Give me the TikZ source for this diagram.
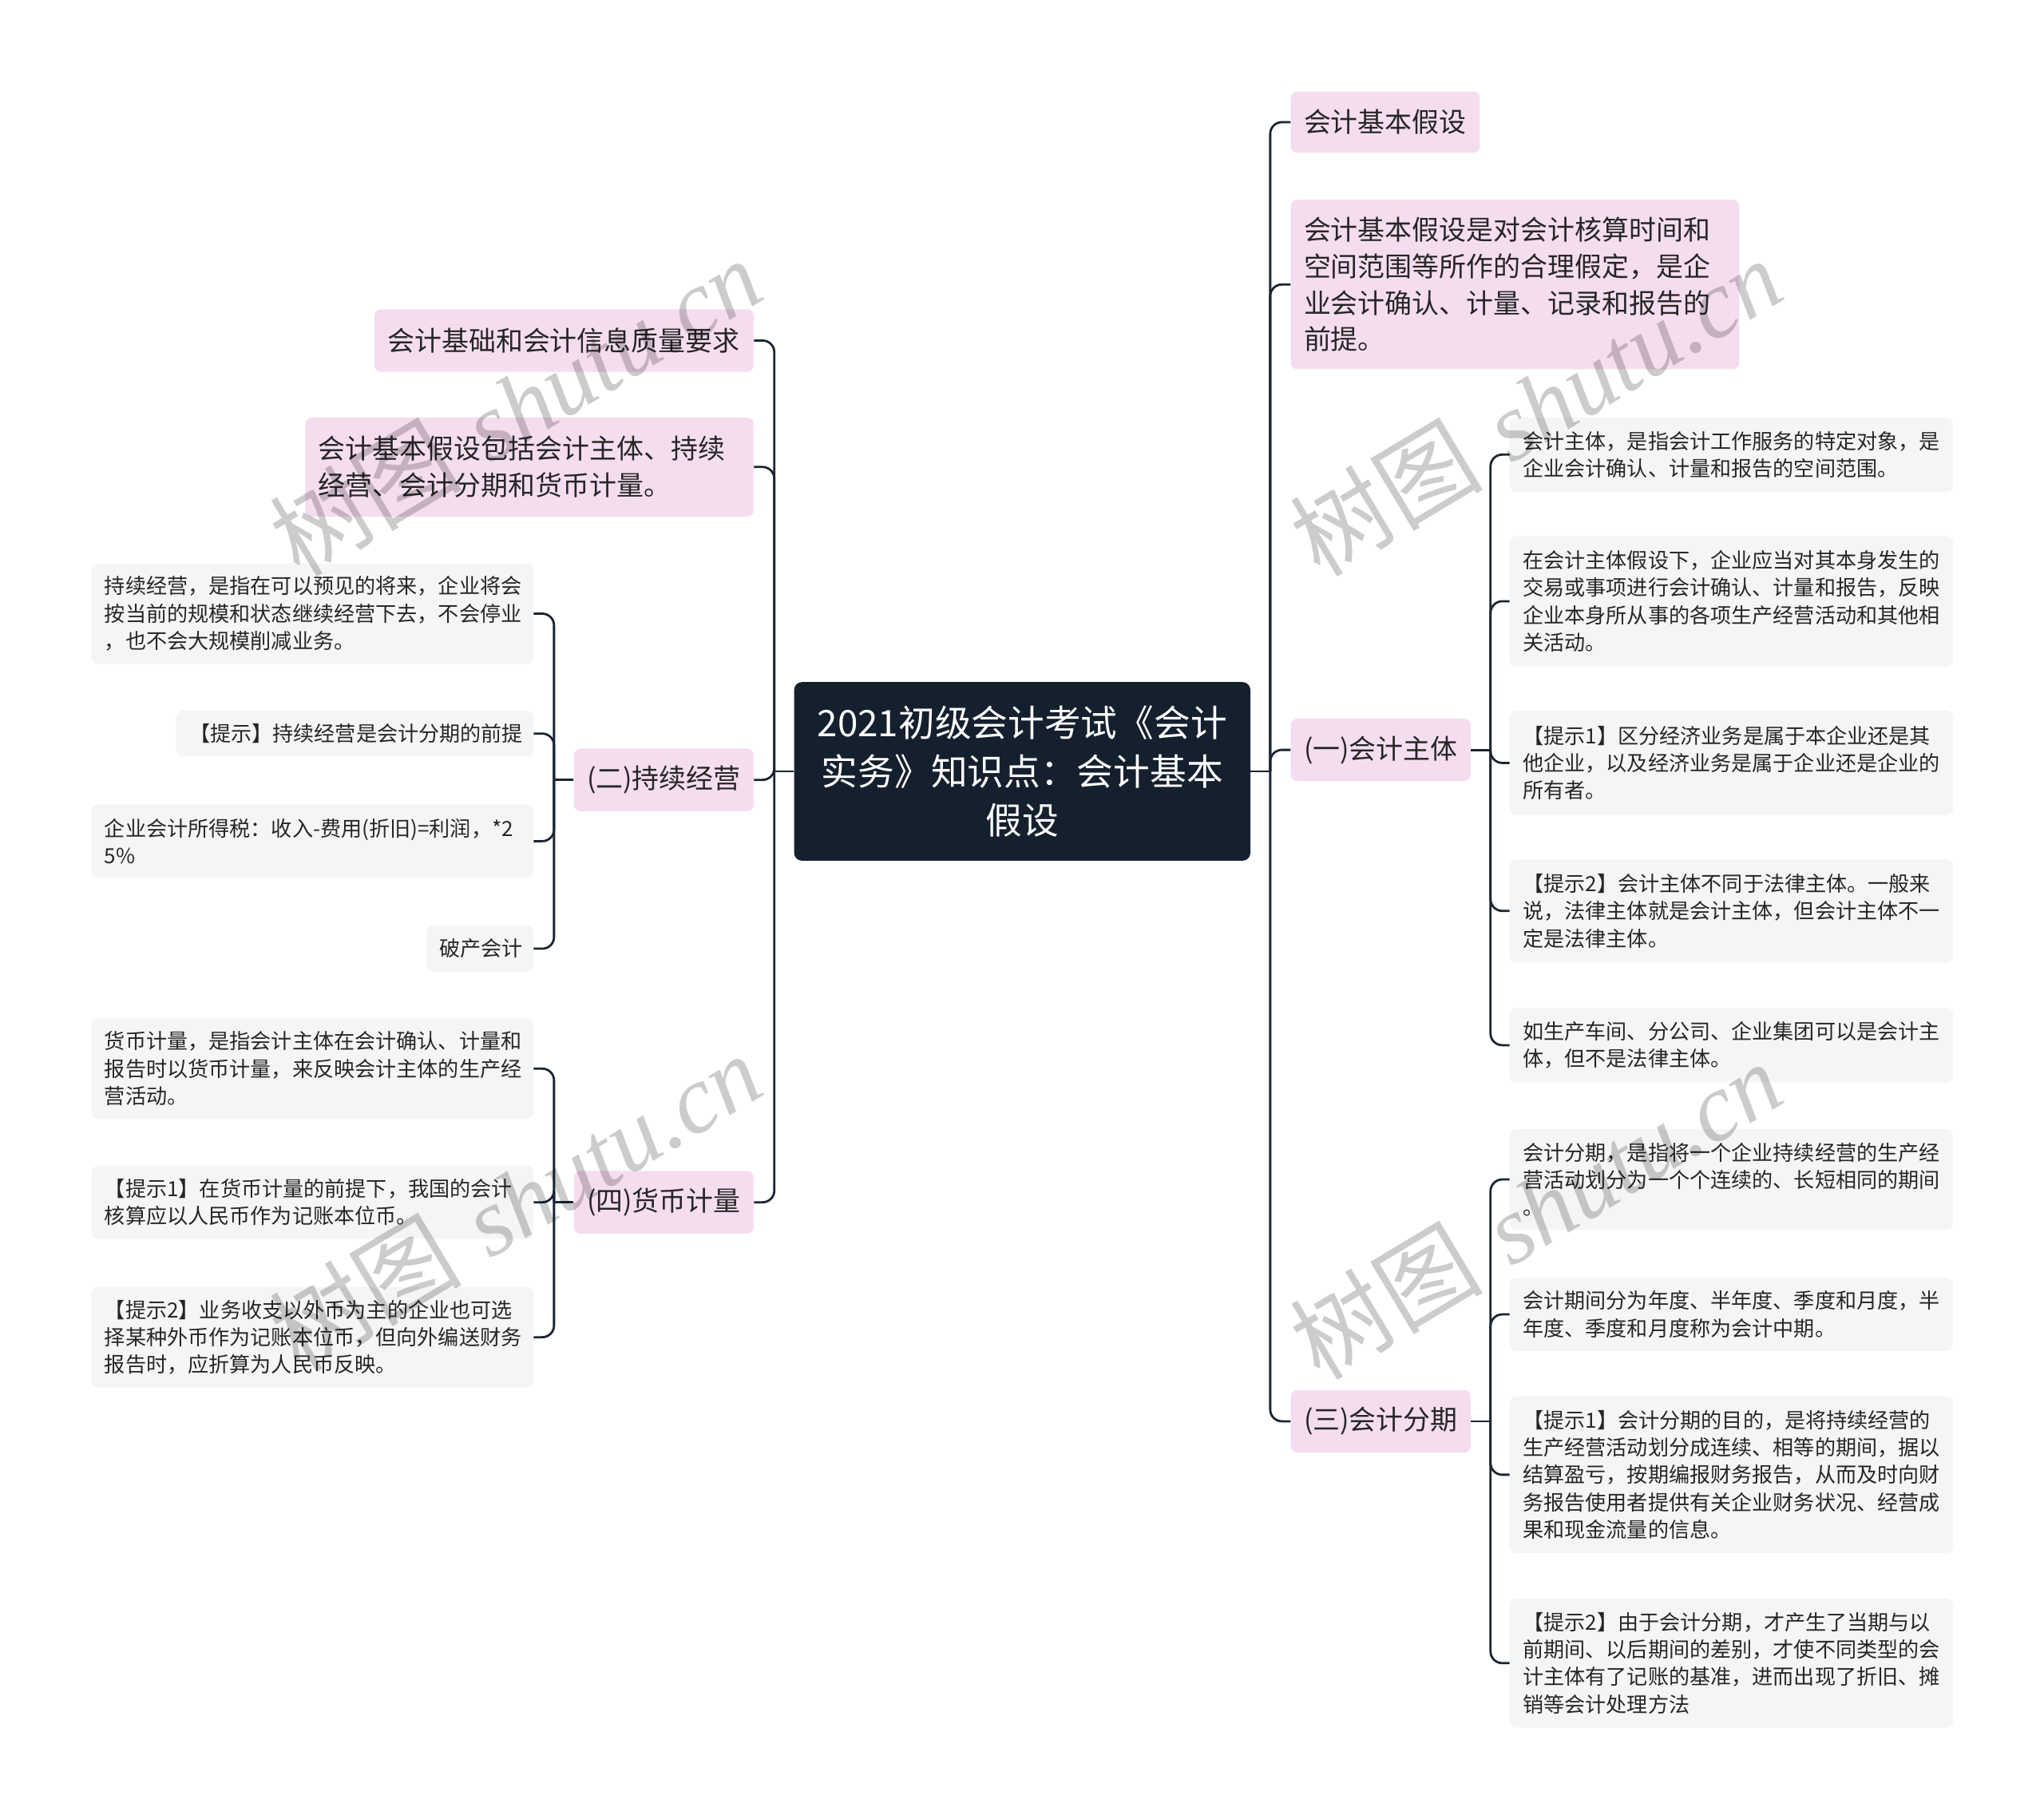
\documentclass[tikz,border=0pt]{standalone}
\usepackage{fontspec}
\newfontfamily\cjk{Noto Sans CJK SC}
\newfontfamily\wmlatin{Liberation Serif}
\usetikzlibrary{calc}
\definecolor{linec}{HTML}{1B2533}
\definecolor{centerf}{HTML}{15202F}
\definecolor{pinkf}{HTML}{F5DDF0}
\definecolor{grayf}{HTML}{F5F5F5}
\definecolor{textc}{HTML}{262626}
\tikzset{
  conn/.style={draw=linec, line width=1.7pt},
  basebox/.style={rounded corners=5pt, inner xsep=10pt, inner ysep=0pt, align=left, anchor=north west, text=textc},
  gbox/.style={basebox, fill=grayf, font=\cjk\fontsize{16pt}{21pt}\selectfont},
  pbox/.style={basebox, fill=pinkf, font=\cjk\fontsize{20.8pt}{28pt}\selectfont},
  cbox/.style={rounded corners=6pt, inner xsep=10pt, inner ysep=0pt, align=center, anchor=north west, fill=centerf, text=white, font=\cjk\fontsize{28pt}{37.5pt}\selectfont},
  wm/.style={text=black, text opacity=0.2, rotate=31, font=\fontsize{74pt}{80pt}\selectfont, inner sep=0pt},
}
\newcommand{\rconn}[2]{\draw[conn] (#1.east) -- ++(15,0);\draw[conn, rounded corners=9pt] (#2.west) -| ($(#1.east)+(15,0)$);}
\newcommand{\lconn}[2]{\draw[conn] (#1.west) -- ++(-15,0);\draw[conn, rounded corners=9pt] (#2.east) -| ($(#1.west)+(-15,0)$);}
\begin{document}
\begin{tikzpicture}[x=1pt,y=-1pt]
\useasboundingbox (0,0) rectangle (1568,1395);
\fill[white] (0,0) rectangle (1568,1395);

% center
\node[cbox, text width=330pt, minimum height=137pt] (ctr) at (609,523) {2021初级会计考试《会计\\实务》知识点：会计基本\\假设};

% right level 1
\node[pbox, text width=125pt, minimum height=47pt] (r1) at (990,70) {会计基本假设};
\node[pbox, text width=324pt, minimum height=130pt] (r2) at (990,153) {会计基本假设是对会计核算时间和\\空间范围等所作的合理假定，是企\\业会计确认、计量、记录和报告的\\前提。};
\node[pbox, text width=118pt, minimum height=48pt] (r3) at (990,551) {(一)会计主体};
\node[pbox, text width=118pt, minimum height=48pt] (r4) at (990,1066) {(三)会计分期};

% left level 1
\node[pbox, text width=271pt, minimum height=48pt] (l1) at (287,237) {会计基础和会计信息质量要求};
\node[pbox, text width=324pt, minimum height=76pt] (l2) at (234,320) {会计基本假设包括会计主体、持续\\经营、会计分期和货币计量。};
\node[pbox, text width=118pt, minimum height=48pt] (l3) at (440,574) {(二)持续经营};
\node[pbox, text width=118pt, minimum height=48pt] (l4) at (440,898) {(四)货币计量};

% children of (一)
\node[gbox, text width=320pt, minimum height=57pt] (c1) at (1158,320) {会计主体，是指会计工作服务的特定对象，是\\企业会计确认、计量和报告的空间范围。};
\node[gbox, text width=320pt, minimum height=100pt] (c2) at (1158,411) {在会计主体假设下，企业应当对其本身发生的\\交易或事项进行会计确认、计量和报告，反映\\企业本身所从事的各项生产经营活动和其他相\\关活动。};
\node[gbox, text width=320pt, minimum height=80pt] (c3) at (1158,545) {【提示1】区分经济业务是属于本企业还是其\\他企业，以及经济业务是属于企业还是企业的\\所有者。};
\node[gbox, text width=320pt, minimum height=79pt] (c4) at (1158,659) {【提示2】会计主体不同于法律主体。一般来\\说，法律主体就是会计主体，但会计主体不一\\定是法律主体。};
\node[gbox, text width=320pt, minimum height=57pt] (c5) at (1158,773) {如生产车间、分公司、企业集团可以是会计主\\体，但不是法律主体。};

% children of (三)
\node[gbox, text width=320pt, minimum height=77pt] (d1) at (1158,866) {会计分期，是指将一个企业持续经营的生产经\\营活动划分为一个个连续的、长短相同的期间\\。};
\node[gbox, text width=320pt, minimum height=56pt] (d2) at (1158,980) {会计期间分为年度、半年度、季度和月度，半\\年度、季度和月度称为会计中期。};
\node[gbox, text width=320pt, minimum height=120pt] (d3) at (1158,1071) {【提示1】会计分期的目的，是将持续经营的\\生产经营活动划分成连续、相等的期间，据以\\结算盈亏，按期编报财务报告，从而及时向财\\务报告使用者提供有关企业财务状况、经营成\\果和现金流量的信息。};
\node[gbox, text width=320pt, minimum height=99pt] (d4) at (1158,1226) {【提示2】由于会计分期，才产生了当期与以\\前期间、以后期间的差别，才使不同类型的会\\计主体有了记账的基准，进而出现了折旧、摊\\销等会计处理方法};

% children of (二)
\node[gbox, text width=319pt, minimum height=77pt] (e1) at (70,432) {持续经营，是指在可以预见的将来，企业将会\\按当前的规模和状态继续经营下去，不会停业\\，也不会大规模削减业务。};
\node[gbox, text width=254pt, minimum height=35pt] (e2) at (135,545) {【提示】持续经营是会计分期的前提};
\node[gbox, text width=319pt, minimum height=56pt] (e3) at (70,617) {企业会计所得税：收入-费用(折旧)=利润，*2\\5\%};
\node[gbox, text width=62pt, minimum height=35pt] (e4) at (327,710) {破产会计};

% children of (四)
\node[gbox, text width=319pt, minimum height=77pt] (f1) at (70,781) {货币计量，是指会计主体在会计确认、计量和\\报告时以货币计量，来反映会计主体的生产经\\营活动。};
\node[gbox, text width=319pt, minimum height=56pt] (f2) at (70,894) {【提示1】在货币计量的前提下，我国的会计\\核算应以人民币作为记账本位币。};
\node[gbox, text width=319pt, minimum height=77pt] (f3) at (70,987) {【提示2】业务收支以外币为主的企业也可选\\择某种外币作为记账本位币，但向外编送财务\\报告时，应折算为人民币反映。};

% connectors
\rconn{ctr}{r1}\rconn{ctr}{r2}\rconn{ctr}{r3}\rconn{ctr}{r4}
\lconn{ctr}{l1}\lconn{ctr}{l2}\lconn{ctr}{l3}\lconn{ctr}{l4}
\rconn{r3}{c1}\rconn{r3}{c2}\rconn{r3}{c3}\rconn{r3}{c4}\rconn{r3}{c5}
\rconn{r4}{d1}\rconn{r4}{d2}\rconn{r4}{d3}\rconn{r4}{d4}
\lconn{l3}{e1}\lconn{l3}{e2}\lconn{l3}{e3}\lconn{l3}{e4}
\lconn{l4}{f1}\lconn{l4}{f2}\lconn{l4}{f3}

% watermarks
\node[wm] (w1) at (395,312) {{\cjk 树图} {\wmlatin\itshape shutu.cn}};
\node[wm] (w2) at (1178,312) {{\cjk 树图} {\wmlatin\itshape shutu.cn}};
\node[wm] (w3) at (395,922) {{\cjk 树图} {\wmlatin\itshape shutu.cn}};
\node[wm] (w4) at (1178,928) {{\cjk 树图} {\wmlatin\itshape shutu.cn}};
\end{tikzpicture}
\end{document}
